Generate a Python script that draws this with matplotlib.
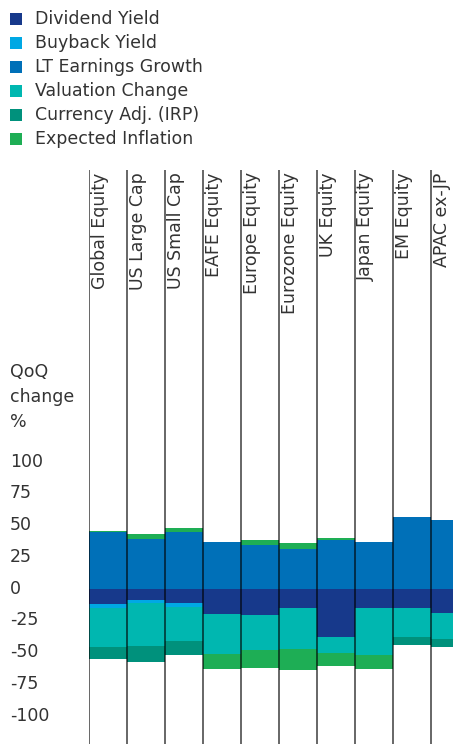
import numpy as np
import matplotlib.pyplot as plt
from matplotlib.patches import Rectangle

# données (QoQ change, %)
categories = ["Global Equity", "US Large Cap", "US Small Cap", "EAFE Equity", "Europe Equity",
              "Eurozone Equity", "UK Equity", "Japan Equity", "EM Equity", "APAC ex-JP"]
dividend_yield = [-12.2, -9.0, -11.4, -20.1, -20.8, -15.3, -38.1, -15.3, -15.3, -19.3]
buyback_yield = [-2.6, -2.4, -3.1, 0, 0, 0, 0, 0, 0, 0]
lt_earnings_growth = [44.4, 38.9, 44.4, 36.6, 34.2, 31.5, 38.1, 36.6, 56.2, 53.9]
valuation_change = [-31.4, -33.8, -26.7, -31.5, -27.5, -32.3, -12.6, -37.0, -22.8, -20.4]
currency_adj = [-9.4, -12.6, -11.0, 0, 0, 0, 0, 0, -6.3, -6.3]
expected_inflation_up = [0.8, 3.9, 3.1, 0, 3.9, 4.7, 1.6, 0, 0, 0]
expected_inflation_down = [0, 0, 0, -11.8, -14.2, -16.5, -10.2, -11.0, 0, 0]
y_ticks = [100, 75, 50, 25, 0, -25, -50, -75, -100]

legend_labels = ["Dividend Yield", "Buyback Yield", "LT Earnings Growth",
                 "Valuation Change", "Currency Adj. (IRP)", "Expected Inflation"]
couleurs = ["#17398b", "#00a8e4", "#0070b8", "#00b7b0", "#00917c", "#1eae55"]

W, H = 453, 744
texte = "#333333"
plt.rcParams["font.family"] = ["DejaVu Sans"]
taille = 12.5

fig = plt.figure(figsize=(W / 100, H / 100), dpi=100)

# axe : colonnes de 38 px à partir de x=89, haut des traits à y=170
x0_px, col_px, top_px, zero_px, px_par_unite = 89, 37.97, 170, 588.7, 1.2715
ax = fig.add_axes([x0_px / W, 0, (W - x0_px) / W, (H - top_px) / H])
ax.set_xlim(0, (W - x0_px) / col_px)
ax.set_ylim(-(H - zero_px) / px_par_unite, (zero_px - top_px) / px_par_unite)

x = np.arange(len(categories))
pos = np.zeros(len(categories))
neg = np.zeros(len(categories))
series = [
    (dividend_yield, couleurs[0]),
    (buyback_yield, couleurs[1]),
    (lt_earnings_growth, couleurs[2]),
    (valuation_change, couleurs[3]),
    (currency_adj, couleurs[4]),
    (expected_inflation_up, couleurs[5]),
    (expected_inflation_down, couleurs[5]),
]
for valeurs, c in series:
    v = np.array(valeurs, dtype=float)
    base = np.where(v >= 0, pos, neg)
    ax.bar(x, v, bottom=base, width=1.0, align="edge", color=c, linewidth=0, zorder=2)
    pos = pos + np.clip(v, 0, None)
    neg = neg + np.clip(v, None, 0)

# traits verticaux entre colonnes
ax.vlines(x, *ax.get_ylim(), color="black", alpha=0.6, linewidth=1.4, zorder=3)

# noms des catégories, verticaux, en haut des colonnes
for i, cat in enumerate(categories):
    ax.text(i + 0.30, 0.996, cat, rotation=90, ha="center", va="top",
            transform=ax.get_xaxis_transform(), fontsize=taille, color=texte)

ax.set_yticks(y_ticks)
ax.set_yticklabels([str(t) for t in y_ticks], ha="left", va="center", fontsize=taille, color=texte)
ax.tick_params(axis="y", length=0, pad=(x0_px - 10) * 0.72)
ax.set_xticks([])
for s in ax.spines.values():
    s.set_visible(False)

# titre de l'axe y
for j, mot in enumerate(["QoQ", "change", "%"]):
    fig.text(10 / W, 1 - (372 + 25 * j) / H, mot, ha="left", va="center",
             fontsize=taille, color=texte)

# légende manuelle
for i, (lab, c) in enumerate(zip(legend_labels, couleurs)):
    yc = 18.5 + 24.1 * i
    fig.patches.append(Rectangle((10 / W, 1 - (yc + 6) / H), 12 / W, 12 / H,
                                 transform=fig.transFigure, facecolor=c, edgecolor="none"))
    fig.text(35 / W, 1 - yc / H, lab, ha="left", va="center", fontsize=taille, color=texte)

plt.savefig("out.png", dpi=100)
